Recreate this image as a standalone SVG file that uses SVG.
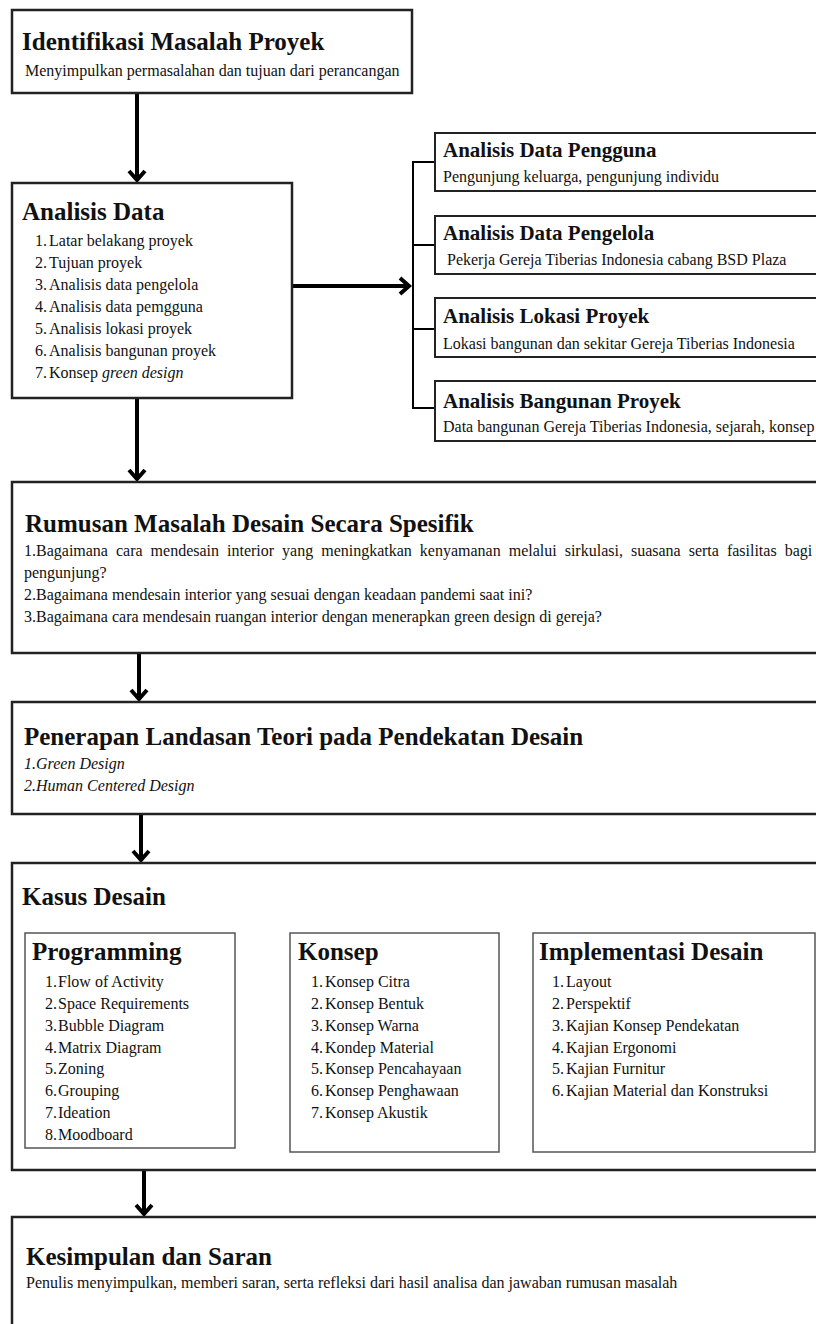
<svg xmlns="http://www.w3.org/2000/svg" width="816" height="1324" viewBox="0 0 816 1324">
<style>
text{font-family:"Liberation Serif","Times New Roman",serif;fill:#111}
.h{font-size:25px;font-weight:bold}
.hs{font-size:21px;font-weight:bold}
.t{font-size:16px}
.i{font-size:16px;font-style:italic}
.box{fill:#fff;stroke:#222;stroke-width:2.5}
.ibox{fill:#fff;stroke:#555;stroke-width:1.5}
.rbox{fill:#fff;stroke:#222;stroke-width:2}
.arr{fill:none;stroke:#000;stroke-width:4}
.br{fill:none;stroke:#000;stroke-width:2}
</style>
<defs>
<marker id="ah" viewBox="-12 -12 24 24" refX="0" refY="0" markerWidth="24" markerHeight="24" markerUnits="userSpaceOnUse" orient="auto">
<path d="M-9,-8 L0,0 L-9,8" fill="none" stroke="#000" stroke-width="4"/>
</marker>
</defs>
<rect width="816" height="1324" fill="#fff"/>

<g id="connectors">
<line class="arr" x1="137" y1="93" x2="137" y2="180" marker-end="url(#ah)"/>
<line class="arr" x1="292" y1="286" x2="409" y2="286" marker-end="url(#ah)"/>
<path class="br" d="M435,162 H413 V408 H435 M413,245 H435 M413,329 H435"/>
<line class="arr" x1="137" y1="398" x2="137" y2="479" marker-end="url(#ah)"/>
<line class="arr" x1="139" y1="653" x2="139" y2="699" marker-end="url(#ah)"/>
<line class="arr" x1="141" y1="814" x2="141" y2="860" marker-end="url(#ah)"/>
<line class="arr" x1="144" y1="1170" x2="144" y2="1214" marker-end="url(#ah)"/>
</g>

<g id="identifikasi">
<rect class="box" x="12" y="10" width="400" height="83"/>
<text class="h" x="22" y="50">Identifikasi Masalah Proyek</text>
<text class="t" x="25" y="76">Menyimpulkan permasalahan dan tujuan dari perancangan</text>
</g>

<g id="analisis-data">
<rect class="box" x="12" y="183" width="280" height="215"/>
<text class="h" x="22" y="220">Analisis Data</text>
<text class="t"><tspan x="35" y="246">1.</tspan><tspan x="49" y="246">Latar belakang proyek</tspan></text>
<text class="t"><tspan x="35" y="268">2.</tspan><tspan x="49" y="268">Tujuan proyek</tspan></text>
<text class="t"><tspan x="35" y="290">3.</tspan><tspan x="49" y="290">Analisis data pengelola</tspan></text>
<text class="t"><tspan x="35" y="312">4.</tspan><tspan x="49" y="312">Analisis data pemgguna</tspan></text>
<text class="t"><tspan x="35" y="334">5.</tspan><tspan x="49" y="334">Analisis lokasi proyek</tspan></text>
<text class="t"><tspan x="35" y="356">6.</tspan><tspan x="49" y="356">Analisis bangunan proyek</tspan></text>
<text class="t"><tspan x="35" y="378">7.</tspan><tspan x="49" y="378">Konsep </tspan><tspan font-style="italic">green design</tspan></text>
</g>

<g id="data-pengguna">
<rect class="rbox" x="435" y="133" width="400" height="58"/>
<text class="hs" x="443" y="157">Analisis Data Pengguna</text>
<text class="t" x="443" y="182">Pengunjung keluarga, pengunjung individu</text>
</g>
<g id="data-pengelola">
<rect class="rbox" x="435" y="216" width="400" height="58"/>
<text class="hs" x="443" y="240">Analisis Data Pengelola</text>
<text class="t" x="447" y="265">Pekerja Gereja Tiberias Indonesia cabang BSD Plaza</text>
</g>
<g id="lokasi-proyek">
<rect class="rbox" x="435" y="298" width="400" height="59"/>
<text class="hs" x="443" y="323">Analisis Lokasi Proyek</text>
<text class="t" x="443" y="349">Lokasi bangunan dan sekitar Gereja Tiberias Indonesia</text>
</g>
<g id="bangunan-proyek">
<rect class="rbox" x="435" y="381" width="400" height="60"/>
<text class="hs" x="443" y="408">Analisis Bangunan Proyek</text>
<text class="t" x="443" y="432">Data bangunan Gereja Tiberias Indonesia, sejarah, konsep</text>
</g>

<g id="rumusan">
<rect class="box" x="12" y="482" width="830" height="171"/>
<text class="h" x="25" y="532">Rumusan Masalah Desain Secara Spesifik</text>
<text class="t" x="24" y="556" word-spacing="4">1.Bagaimana cara mendesain interior yang meningkatkan kenyamanan melalui sirkulasi, suasana serta fasilitas bagi</text>
<text class="t" x="24" y="578">pengunjung?</text>
<text class="t" x="24" y="600">2.Bagaimana mendesain interior yang sesuai dengan keadaan pandemi saat ini?</text>
<text class="t" x="24" y="622">3.Bagaimana cara mendesain ruangan interior dengan menerapkan green design di gereja?</text>
</g>

<g id="penerapan">
<rect class="box" x="12" y="702" width="830" height="112"/>
<text class="h" x="24" y="745">Penerapan Landasan Teori pada Pendekatan Desain</text>
<text class="i" x="24" y="769">1.Green Design</text>
<text class="i" x="24" y="791">2.Human Centered Design</text>
</g>

<g id="kasus-desain">
<rect class="box" x="12" y="863" width="830" height="307"/>
<text class="h" x="22" y="905">Kasus Desain</text>
</g>

<g id="programming">
<rect class="ibox" x="25" y="933" width="210" height="215"/>
<text class="h" x="32" y="960">Programming</text>
<text class="t"><tspan x="45" y="987">1.</tspan><tspan x="58" y="987">Flow of Activity</tspan></text>
<text class="t"><tspan x="45" y="1009">2.</tspan><tspan x="58" y="1009">Space Requirements</tspan></text>
<text class="t"><tspan x="45" y="1031">3.</tspan><tspan x="58" y="1031">Bubble Diagram</tspan></text>
<text class="t"><tspan x="45" y="1053">4.</tspan><tspan x="58" y="1053">Matrix Diagram</tspan></text>
<text class="t"><tspan x="45" y="1074">5.</tspan><tspan x="58" y="1074">Zoning</tspan></text>
<text class="t"><tspan x="45" y="1096">6.</tspan><tspan x="58" y="1096">Grouping</tspan></text>
<text class="t"><tspan x="45" y="1118">7.</tspan><tspan x="58" y="1118">Ideation</tspan></text>
<text class="t"><tspan x="45" y="1140">8.</tspan><tspan x="58" y="1140">Moodboard</tspan></text>
</g>

<g id="konsep">
<rect class="ibox" x="290" y="933" width="209" height="219"/>
<text class="h" x="298" y="960">Konsep</text>
<text class="t"><tspan x="311" y="987">1.</tspan><tspan x="325" y="987">Konsep Citra</tspan></text>
<text class="t"><tspan x="311" y="1009">2.</tspan><tspan x="325" y="1009">Konsep Bentuk</tspan></text>
<text class="t"><tspan x="311" y="1031">3.</tspan><tspan x="325" y="1031">Konsep Warna</tspan></text>
<text class="t"><tspan x="311" y="1053">4.</tspan><tspan x="325" y="1053">Kondep Material</tspan></text>
<text class="t"><tspan x="311" y="1074">5.</tspan><tspan x="325" y="1074">Konsep Pencahayaan</tspan></text>
<text class="t"><tspan x="311" y="1096">6.</tspan><tspan x="325" y="1096">Konsep Penghawaan</tspan></text>
<text class="t"><tspan x="311" y="1118">7.</tspan><tspan x="325" y="1118">Konsep Akustik</tspan></text>
</g>

<g id="implementasi">
<rect class="ibox" x="533" y="933" width="282" height="219"/>
<text class="h" x="539" y="960">Implementasi Desain</text>
<text class="t"><tspan x="552" y="987">1.</tspan><tspan x="566" y="987">Layout</tspan></text>
<text class="t"><tspan x="552" y="1009">2.</tspan><tspan x="566" y="1009">Perspektif</tspan></text>
<text class="t"><tspan x="552" y="1031">3.</tspan><tspan x="566" y="1031">Kajian Konsep Pendekatan</tspan></text>
<text class="t"><tspan x="552" y="1053">4.</tspan><tspan x="566" y="1053">Kajian Ergonomi</tspan></text>
<text class="t"><tspan x="552" y="1074">5.</tspan><tspan x="566" y="1074">Kajian Furnitur</tspan></text>
<text class="t"><tspan x="552" y="1096">6.</tspan><tspan x="566" y="1096">Kajian Material dan Konstruksi</tspan></text>
</g>

<g id="kesimpulan">
<rect class="box" x="12" y="1217" width="830" height="130"/>
<text class="h" x="26" y="1265">Kesimpulan dan Saran</text>
<text class="t" x="26" y="1288">Penulis menyimpulkan, memberi saran, serta refleksi dari hasil analisa dan jawaban rumusan masalah</text>
</g>
</svg>
